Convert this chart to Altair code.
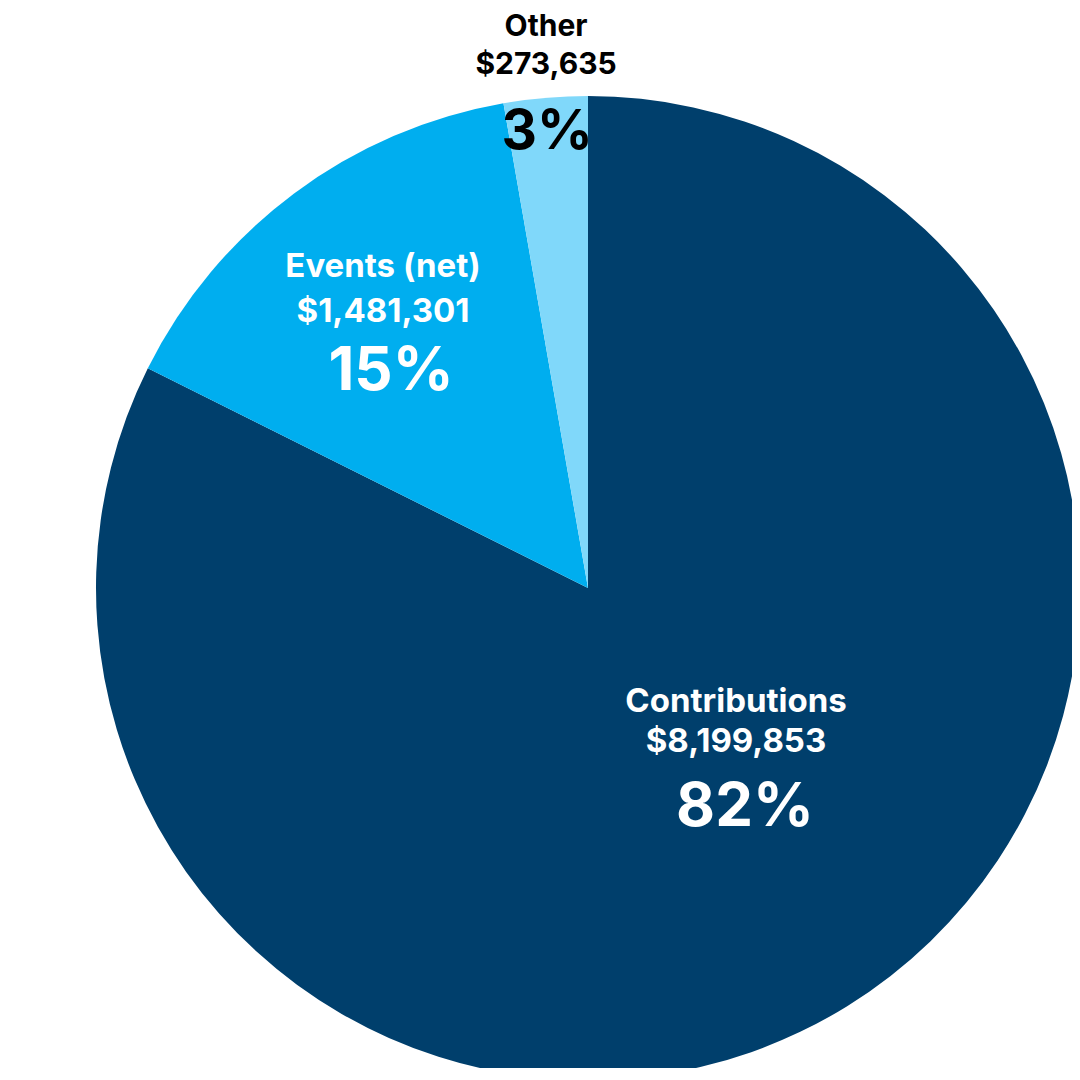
import altair as alt
import pandas as pd

categories = ["Contributions", "Events (net)", "Other"]
values = [8199853, 1481301, 273635]
amount_labels = ["$8,199,853", "$1,481,301", "$273,635"]
pct_labels = ["82%", "15%", "3%"]
colors = ["#003f6c", "#00aeef", "#80d8fa"]

total = sum(values)
df = pd.DataFrame({
    "category": categories,
    "value": values,
    "amount": amount_labels,
    "pct": pct_labels,
    "idx": list(range(len(categories))),
})

CX, CY, R = 580, 580, 492
FONT = "Inter"

base = alt.Chart(df).transform_window(
    cum="sum(value)", sort=[alt.SortField("idx")], frame=[None, 0]
).transform_calculate(mid="datum.cum - datum.value / 2")

arc = base.mark_arc(outerRadius=R).encode(
    theta=alt.Theta("value:Q", stack=True, scale=alt.Scale(domain=[0, total])),
    color=alt.Color("category:N", scale=alt.Scale(domain=categories, range=colors), legend=None),
    order=alt.Order("idx:Q"),
    x=alt.value(CX), y=alt.value(CY),
)

# label styling per slice: radius of anchor (amount baseline), theta offset, offsets for name and pct lines
label_style = {
    "Contributions": dict(r=221, toff=-0.180, dy_name=-40, dy_pct=74, dx_pct=9, size=33, psize=60, color="white"),
    "Events (net)": dict(r=336, toff=-0.016, dy_name=-45, dy_pct=68, dx_pct=8, size=33, psize=60, color="white"),
    "Other": dict(r=516, toff=0.005, dy_name=-38, dy_pct=75, dx_pct=1, size=30, psize=55, color="black"),
}

layers = [arc]
for cat, st in label_style.items():
    sub = base.transform_filter(alt.datum.category == cat)
    enc = dict(
        theta=alt.Theta("mid:Q", stack=False),
        x=alt.value(CX), y=alt.value(CY),
    )
    common = dict(radius=st["r"], thetaOffset=st["toff"], font=FONT, fontWeight="bold",
                  color=st["color"], align="center", baseline="alphabetic")
    layers.append(sub.mark_text(fontSize=st["size"], dy=st["dy_name"], **common).encode(text="category:N", **enc))
    layers.append(sub.mark_text(fontSize=st["size"], dy=0, **common).encode(text="amount:N", **enc))
    layers.append(sub.mark_text(fontSize=st["psize"], dy=st["dy_pct"], dx=st["dx_pct"], **common).encode(text="pct:N", **enc))

chart = alt.layer(*layers).properties(
    width=1064, height=1060, padding=0,
    autosize=alt.AutoSizeParams(type="none"),
).configure_view(stroke=None)

chart.save("out.html", embed_options={"renderer": "svg", "actions": False})
